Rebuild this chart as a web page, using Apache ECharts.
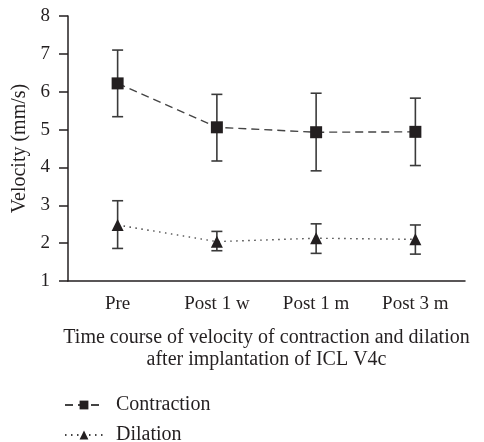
<!DOCTYPE html>
<html>
<head>
<meta charset="utf-8">
<script src="https://cdn.jsdelivr.net/npm/echarts@6/dist/echarts.min.js"></script>
<style>html,body{margin:0;padding:0;background:#fff}#c{width:484px;height:442px}</style>
</head>
<body>
<div id="c"></div>
<script>
const categories = ['Pre', 'Post 1 w', 'Post 1 m', 'Post 3 m'];
const contraction = [6.22, 5.06, 4.93, 4.94];
const contractionHigh = [7.10, 5.93, 5.96, 5.83];
const contractionLow = [5.34, 4.17, 3.91, 4.05];
const dilation = [2.48, 2.04, 2.13, 2.10];
const dilationHigh = [3.12, 2.31, 2.51, 2.48];
const dilationLow = [1.86, 1.80, 1.73, 1.71];
const yTicks = [1, 2, 3, 4, 5, 6, 7, 8];

const FONT = 'Liberation Serif';
const INK = '#231f20';

function errData(lo, hi) { return lo.map((v, i) => [i, v, hi[i]]); }
function errRender(params, api) {
  const x = api.value(0);
  const lo = api.coord([x, api.value(1)]);
  const hi = api.coord([x, api.value(2)]);
  const w = 5.5;
  const st = { stroke: '#3a3a3a', lineWidth: 1.6 };
  return {
    type: 'group',
    children: [
      { type: 'line', shape: { x1: lo[0], y1: lo[1], x2: hi[0], y2: hi[1] }, style: st },
      { type: 'line', shape: { x1: hi[0] - w, y1: hi[1], x2: hi[0] + w, y2: hi[1] }, style: st },
      { type: 'line', shape: { x1: lo[0] - w, y1: lo[1], x2: lo[0] + w, y2: lo[1] }, style: st }
    ]
  };
}

const legendBase = {
  orient: 'vertical',
  left: 64,
  padding: 0,
  itemWidth: 38,
  itemHeight: 11,
  textStyle: { fontFamily: FONT, fontSize: 20, color: INK, padding: [0, 0, 0, 8] },
  selectedMode: false
};

const chart = echarts.init(document.getElementById('c'), null, { renderer: 'canvas' });
chart.setOption({
  animation: false,
  textStyle: { fontFamily: FONT, color: INK },
  grid: { left: 68, right: 19, top: 16, bottom: 161, containLabel: false, outerBoundsMode: 'none' },
  xAxis: {
    type: 'category',
    data: categories,
    boundaryGap: true,
    axisLine: { lineStyle: { color: INK, width: 1.5 } },
    axisTick: { alignWithLabel: true, length: 8, lineStyle: { color: INK, width: 1.5 } },
    axisLabel: { fontFamily: FONT, fontSize: 19, color: INK, margin: 14 },
    name: 'Time course of velocity of contraction and dilation\nafter implantation of ICL V4c',
    nameLocation: 'middle',
    nameGap: 46,
    nameTextStyle: { fontFamily: FONT, fontSize: 20, color: INK, lineHeight: 22 }
  },
  yAxis: {
    type: 'value',
    min: yTicks[0],
    max: yTicks[yTicks.length - 1],
    interval: 1,
    splitLine: { show: false },
    axisLine: { show: true, lineStyle: { color: INK, width: 1.5 } },
    axisTick: { show: true, length: 9, lineStyle: { color: INK, width: 1.5 } },
    axisLabel: { fontFamily: FONT, fontSize: 19, color: INK, margin: 18 },
    name: 'Velocity (mm/s)',
    nameLocation: 'middle',
    nameGap: 34,
    nameRotate: 90,
    nameTextStyle: { fontFamily: FONT, fontSize: 20, color: INK }
  },
  legend: [
    Object.assign({}, legendBase, { data: ['Contraction'], top: 395 }),
    Object.assign({}, legendBase, { data: ['Dilation'], top: 425 })
  ],
  series: [
    { type: 'custom', name: 'cErr', data: errData(contractionLow, contractionHigh), renderItem: errRender, z: 1, silent: true },
    { type: 'custom', name: 'dErr', data: errData(dilationLow, dilationHigh), renderItem: errRender, z: 1, silent: true },
    {
      type: 'line', name: 'Contraction', data: contraction, z: 3,
      symbol: 'rect', symbolSize: 12,
      itemStyle: { color: INK },
      lineStyle: { color: '#444', width: 1.4, type: [8, 5] }
    },
    {
      type: 'line', name: 'Dilation', data: dilation, z: 3,
      symbol: 'triangle', symbolSize: 12,
      itemStyle: { color: INK },
      lineStyle: { color: '#444', width: 1.4, type: [1.5, 4.5] }
    }
  ]
});
</script>
</body>
</html>
